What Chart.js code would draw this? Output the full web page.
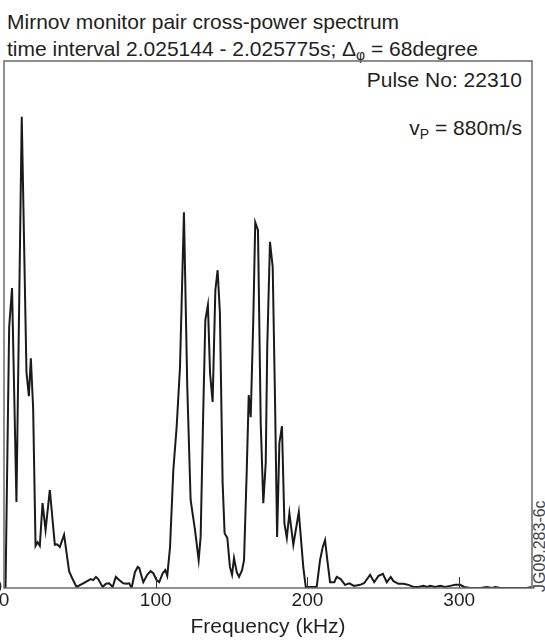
<!DOCTYPE html>
<html>
<head>
<meta charset="utf-8">
<script src="https://cdn.jsdelivr.net/npm/chart.js@4.4.1/dist/chart.umd.min.js"></script>
<style>
  html, body { margin: 0; padding: 0; background: #fff; overflow: hidden; }
  body { width: 545px; height: 640px; position: relative; font-family: "Liberation Sans", Arial, Helvetica, sans-serif; color: #231f20; }
  #wrap { position: absolute; left: -40px; top: 0; width: 585px; height: 640px; }
  .txt { position: absolute; white-space: nowrap; font-size: 21px; line-height: 24px; }
  .txt sub { font-size: 14px; vertical-align: -4px; line-height: 0; }
  #code { position: absolute; font-size: 16px; color: #444; transform-origin: left top; transform: rotate(-90deg); white-space: nowrap; }
</style>
</head>
<body>
<div class="txt" style="left:7px; top:10px;">Mirnov monitor pair cross-power spectrum</div>
<div class="txt" style="left:7px; top:37px;">time interval 2.025144 - 2.025775s; &Delta;<sub>&phi;</sub> = 68degree</div>
<div class="txt" style="right:23px; top:68px;">Pulse No: 22310</div>
<div class="txt" style="right:23px; top:116px;">v<sub>P</sub> = 880m/s</div>
<div id="code" style="left:531px; top:592px;">JG09.283-6c</div>
<div id="wrap"><canvas id="myChart" width="585" height="640"></canvas></div>
<script>
// frequency (kHz) and cross-power (arb. units)
const freq = [
  0.0, 1.0, 3.4, 5.3, 8.2, 11.7, 14.8, 16.4, 17.7, 19.2,
  20.8, 22.1, 23.6, 25.4, 27.4, 30.2, 33.5, 35.0, 36.8, 39.6,
  42.9, 45.2, 47.8, 52.2, 57.1, 58.8, 60.6, 62.1, 65.0, 67.2,
  69.3, 71.6, 73.7, 75.9, 78.6, 80.8, 82.5, 84.1, 86.3, 88.1,
  89.1, 91.8, 94.4, 96.6, 98.4, 100.6, 102.3, 104.6, 106.3, 107.6,
  109.4, 111.6, 113.8, 116.0, 118.6, 120.8, 123.0, 125.9, 128.3, 129.6,
  131.3, 132.7, 134.4, 135.8, 137.5, 139.3, 140.8, 142.3, 144.1, 145.4,
  147.2, 148.9, 150.3, 151.6, 153.4, 154.9, 156.9, 158.2, 160.0, 161.3,
  162.6, 164.3, 165.6, 167.4, 169.2, 170.9, 172.5, 173.5, 175.3, 177.1,
  178.6, 180.0, 181.5, 183.2, 184.8, 186.4, 188.1, 190.7, 194.3, 197.3,
  198.9, 202.8, 206.1, 208.3, 210.1, 211.6, 213.1, 214.9, 217.7, 219.3,
  221.9, 224.8, 227.6, 230.7, 234.7, 237.3, 241.3, 244.0, 246.8, 249.7,
  252.3, 254.9, 256.7, 260.0, 263.3, 266.6, 269.9, 273.1, 276.5, 278.7,
  280.9, 284.2, 287.5, 290.8, 294.1, 297.4, 300.7, 303.3, 307.3, 310.6,
  313.9, 318.3, 321.6, 323.8, 327.1, 331.5, 335.8, 340.2, 344.6, 348.0
];
const power = [
  0.0, 0.0, 49.5, 56.9, 16.3, 89.4, 41.0, 36.4, 43.6, 34.2,
  8.0, 8.7, 8.0, 16.1, 11.0, 18.6, 8.2, 8.3, 7.8, 10.1,
  3.2, 1.7, 0.2, 0.9, 1.7, 1.5, 2.1, 1.7, 0.2, 0.8,
  0.9, 0.2, 2.1, 1.5, 0.9, 0.8, 0.9, 0.0, 3.0, 4.0,
  3.8, 1.1, 2.5, 3.2, 2.8, 1.5, 1.1, 2.8, 3.4, 2.3,
  7.6, 22.4, 30.6, 41.9, 71.3, 38.1, 16.7, 11.0, 5.3, 9.7,
  33.2, 50.9, 53.7, 40.8, 35.3, 56.5, 60.3, 52.2, 19.9, 10.4,
  9.5, 4.0, 2.5, 5.7, 3.0, 2.1, 3.4, 5.3, 22.4, 36.6,
  32.4, 50.9, 69.4, 67.9, 31.3, 16.1, 23.7, 45.7, 65.7, 60.9,
  36.2, 9.7, 27.5, 30.7, 12.3, 9.5, 14.2, 8.2, 14.4, 3.8,
  0.2, 0.2, 0.2, 5.3, 7.8, 9.1, 5.3, 1.1, 1.1, 2.1,
  1.7, 0.6, 0.9, 0.4, 0.6, 0.9, 2.5, 1.1, 2.3, 2.7,
  1.1, 2.1, 1.3, 0.8, 0.8, 0.6, 0.2, 0.2, 0.4, 0.2,
  0.4, 0.2, 0.4, 0.2, 0.4, 0.6, 0.6, 0.2, 0.0, 0.0,
  0.0, 0.2, 0.0, 0.2, 0.0, 0.0, 0.0, 0.0, 0.0, 0.2
];
const xTicks = [0, 100, 200, 300];

// box round the plot + short inward ticks on the frequency axis
const framePlugin = {
  id: 'frame',
  afterDatasetsDraw(chart) {
    const { ctx, chartArea: a, scales: { x } } = chart;
    ctx.save();
    ctx.strokeStyle = '#6a6a6a';
    ctx.lineWidth = 1.5;
    ctx.strokeRect(a.left, a.top, a.right - a.left, a.bottom - a.top);
    ctx.strokeStyle = '#333';
    ctx.lineWidth = 1;
    xTicks.forEach(v => {
      if (v <= x.min || v >= x.max) return;
      const px = Math.round(x.getPixelForValue(v)) + 0.5;
      ctx.beginPath();
      ctx.moveTo(px, a.bottom);
      ctx.lineTo(px, a.bottom - 11);
      ctx.stroke();
    });
    ctx.restore();
  }
};

const ctx = document.getElementById('myChart').getContext('2d');
const myChart = new Chart(ctx, {
  type: 'line',
  data: {
    datasets: [{
      data: freq.map((f, i) => ({ x: f, y: power[i] })),
      borderColor: '#1a1a1a',
      borderWidth: 2,
      pointRadius: 0,
      tension: 0,
      fill: false
    }]
  },
  options: {
    responsive: false,
    animation: false,
    devicePixelRatio: 1,
    layout: { padding: { top: 61, right: 13, left: 0, bottom: 0 } },
    plugins: { legend: { display: false }, tooltip: { enabled: false } },
    scales: {
      x: {
        type: 'linear',
        min: 0,
        max: 348,
        afterBuildTicks: s => { s.ticks = xTicks.map(v => ({ value: v })); },
        afterFit: s => { s.height = 52; },
        ticks: {
          padding: 1,
          color: '#231f20',
          font: { family: 'Liberation Sans', size: 19 },
          maxRotation: 0,
          autoSkip: false
        },
        grid: { display: false, drawTicks: false },
        border: { display: false },
        title: {
          display: true,
          text: 'Frequency (kHz)',
          color: '#231f20',
          font: { family: 'Liberation Sans', size: 21 },
          padding: { top: 0, bottom: 0 }
        }
      },
      y: {
        min: 0,
        max: 100,
        afterFit: s => { s.width = 44; },
        ticks: {
          stepSize: 100,
          padding: 2,
          color: '#231f20',
          font: { family: 'Liberation Sans', size: 19 },
          callback: v => (v === 0 ? '0' : '')
        },
        grid: { display: false, drawTicks: false },
        border: { display: false }
      }
    }
  },
  plugins: [framePlugin]
});
</script>
</body>
</html>
